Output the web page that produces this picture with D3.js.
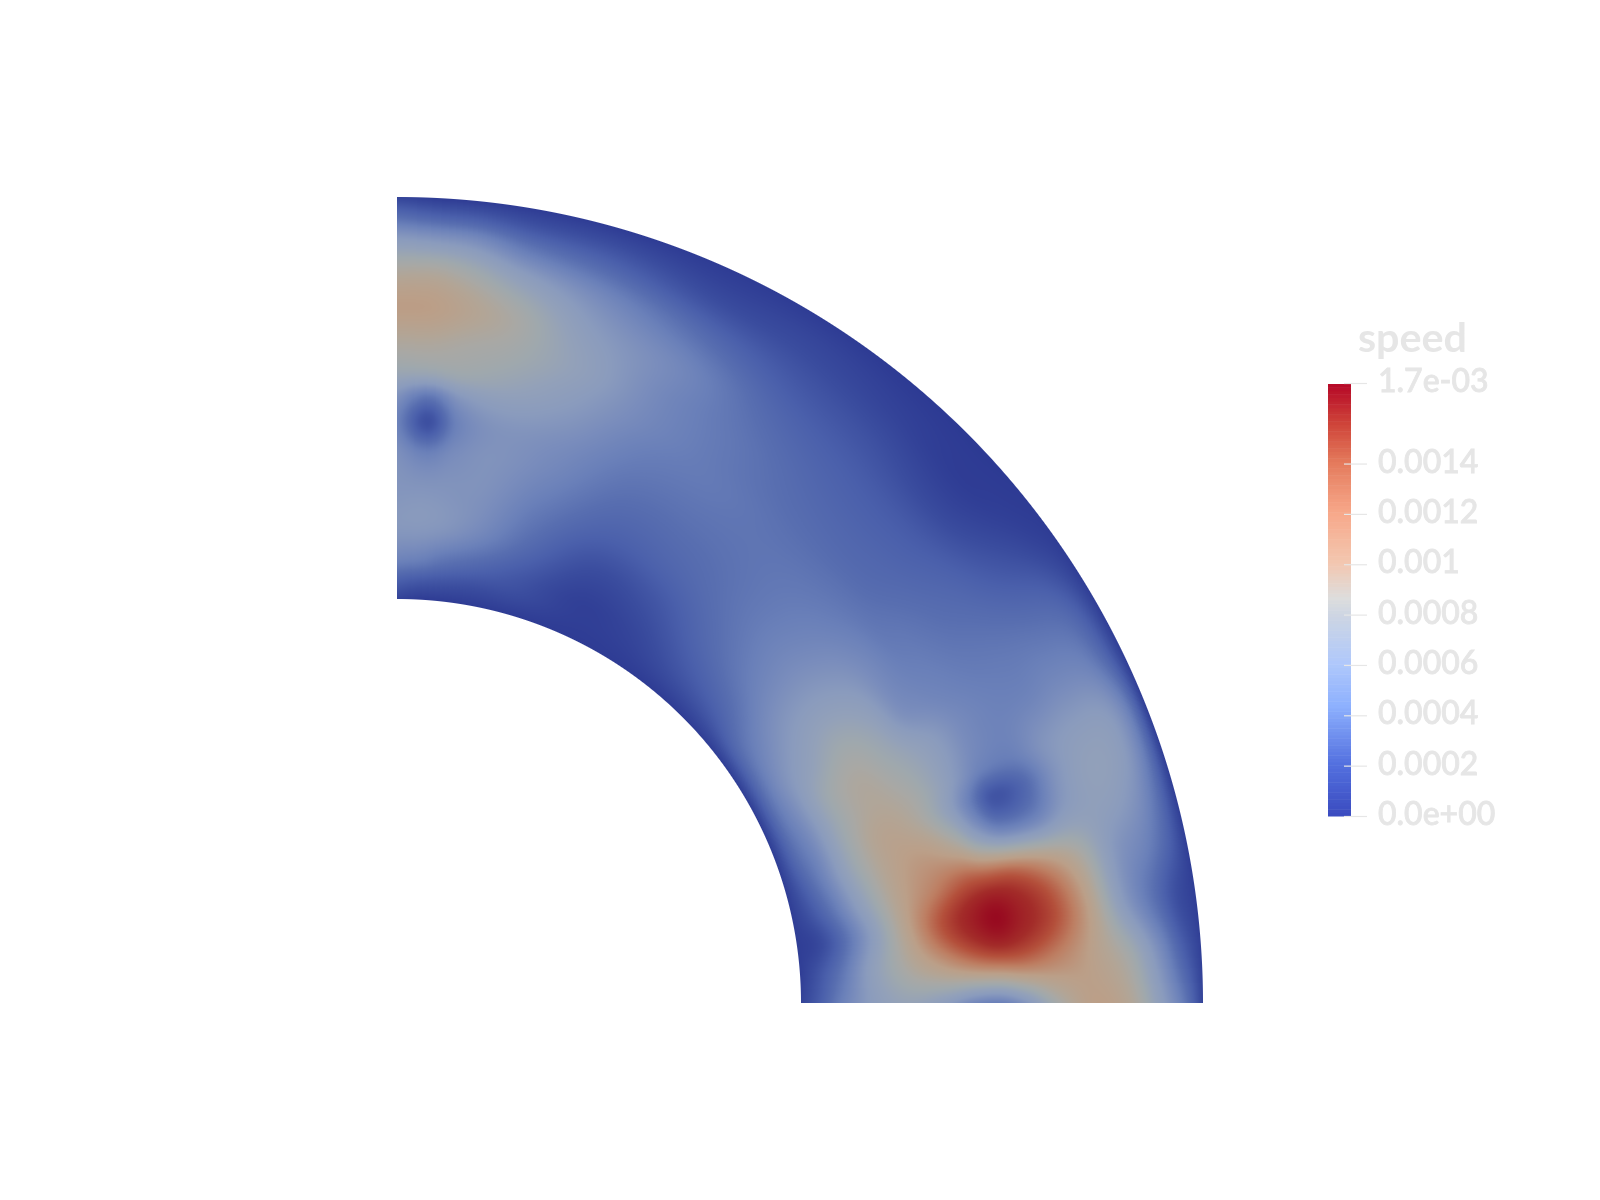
<!DOCTYPE html>
<html><head><meta charset="utf-8">
<script src="https://cdn.jsdelivr.net/npm/d3@7"></script>
<style>
html,body{margin:0;padding:0;background:#fff;width:1600px;height:1200px;overflow:hidden}
canvas,svg{position:absolute;left:0;top:0}
text{font-family:Lato,"Open Sans",sans-serif;fill:#e6e6e6}
</style></head><body>
<script>
// speed (×1e-3). Each list is one ray at a fixed angle, wall to wall.
const angles = [0,4,8,12,16,19,22,26,30,36,42,50,58,66,74,80,84,87,90];
const depths = [0,.05,.1,.18,.27,.36,.44,.5,.56,.64,.73,.82,.9,.95,1];
const ray00 = [.05,.2,.4,.62,.72,.62,.44,.4,.55,.85,1.05,.95,.62,.38,.05];
const ray04 = [.02,.15,.32,.65,.9,1.08,1.22,1.28,1.28,1.18,1.03,.83,.48,.22,.03];
const ray08 = [.02,.07,.22,.58,.98,1.33,1.58,1.72,1.58,1.38,1.05,.6,.3,.12,.02];
const ray12 = [.02,.15,.33,.68,1.0,1.18,1.32,1.33,1.3,1.15,.92,.58,.42,.25,.02];
const ray16 = [.02,.22,.42,.76,1.0,1.05,.9,.64,.44,.44,.62,.66,.55,.35,.02];
const ray19 = [.02,.27,.45,.78,.99,.93,.7,.42,.15,.24,.55,.68,.62,.42,.02];
const ray22 = [.02,.3,.48,.78,.94,.88,.72,.56,.42,.4,.55,.62,.6,.42,.02];
const ray26 = [.02,.33,.52,.78,.9,.8,.68,.58,.48,.42,.42,.46,.43,.28,.02];
const ray30 = [.02,.33,.52,.68,.8,.72,.52,.46,.42,.38,.36,.34,.3,.2,.02];
const ray36 = [.02,.28,.42,.55,.6,.56,.46,.38,.35,.3,.25,.17,.1,.05,.01];
const ray42 = [.02,.17,.28,.4,.45,.43,.38,.33,.28,.24,.18,.08,.02,.01,0];
const ray50 = [.01,.1,.17,.26,.32,.34,.34,.32,.29,.25,.2,.13,.06,.03,0];
const ray58 = [.01,.04,.07,.14,.24,.3,.34,.36,.35,.33,.27,.18,.1,.06,.01];
const ray66 = [.01,.03,.04,.11,.22,.3,.36,.4,.44,.45,.45,.3,.13,.06,.01];
const ray74 = [.01,.1,.16,.28,.37,.45,.5,.56,.62,.68,.62,.48,.25,.12,.01];
const ray80 = [.01,.12,.26,.46,.52,.54,.54,.62,.74,.83,.86,.66,.35,.15,.01];
const ray84 = [.01,.15,.33,.55,.55,.5,.42,.54,.78,.88,.98,.82,.5,.22,.01];
const ray87 = [.01,.18,.4,.58,.56,.42,.12,.32,.74,.92,1.05,.9,.54,.24,.01];
const ray90 = [.05,.22,.43,.58,.56,.52,.42,.52,.75,.92,1.06,.9,.58,.3,.05];
const rays = [ray00,ray04,ray08,ray12,ray16,ray19,ray22,ray26,ray30,ray36,ray42,ray50,ray58,ray66,ray74,ray80,ray84,ray87,ray90];

// colour ramps
const fieldStops  = [0,.1,.2,.3,.4,.5,.6,.7,.8,.87,.95,1.05,1.2,1.35,1.5,1.72];
const fieldColors = ["#2d3a93","#3a4c9e","#4a5fab","#586eb0","#6a80b9","#7a8dbc","#8a9bbd","#93a1b9","#9fa8ad","#a8a8a5","#b2a596","#bb9f88","#bd7e62","#b4503b","#a32c29","#980a20"];
const barStops  = [0,.2,.43,.6,.8,.86,1,1.2,1.4,1.55,1.72];
const barColors = ["#3b4cc0","#5370df","#8db0fe","#afc8fb","#cfd6e2","#dddddd","#f3c7b0","#f7a88a","#e47a5c","#cf453a","#b40426"];
const tickValues = [0,.2,.4,.6,.8,1,1.2,1.4,1.72];
const tickLabels = ["0.0e+00","0.0002","0.0004","0.0006","0.0008","0.001","0.0012","0.0014","1.7e-03"];
const legendTitle = "speed";

const W=1600,H=1200,cx=397,cy=1003;
const radius = d3.scaleLinear().domain([0,1]).range([404,806]);
const fieldColor = d3.scaleLinear().domain(fieldStops).range(fieldColors).interpolate(d3.interpolateRgb).clamp(true);
const barColor = d3.scaleLinear().domain(barStops).range(barColors).interpolate(d3.interpolateRgb).clamp(true);
const lut = d3.range(1024).map(i=>d3.rgb(fieldColor(i/1023*1.72)));

function slope(xs,ys,i){
  const n=xs.length;
  if(i<=0) return (ys[1]-ys[0])/(xs[1]-xs[0]);
  if(i>=n-1) return (ys[n-1]-ys[n-2])/(xs[n-1]-xs[n-2]);
  return (ys[i+1]-ys[i-1])/(xs[i+1]-xs[i-1]);
}
function herm(xs,ys,x){
  const i=Math.min(xs.length-2,Math.max(0,d3.bisectRight(xs,x)-1));
  const h=xs[i+1]-xs[i],t=(x-xs[i])/h,t2=t*t,t3=t2*t;
  return (2*t3-3*t2+1)*ys[i]+(t3-2*t2+t)*h*slope(xs,ys,i)+(-2*t3+3*t2)*ys[i+1]+(t3-t2)*h*slope(xs,ys,i+1);
}
const canvas=d3.select("body").append("canvas").attr("width",W).attr("height",H).node();
const ctx=canvas.getContext("2d");
const img=ctx.createImageData(W,H);
const r0=radius(0),r1=radius(1);
const depthN=805;
const profiles=rays.map(ray=>d3.range(depthN).map(k=>herm(depths,ray,k/(depthN-1))));
for(let y=Math.floor(cy-r1)-2;y<=cy+1;y++){
  for(let x=cx-1;x<=Math.ceil(cx+r1)+2;x++){
    const dx=x+.5-cx,dy=cy-(y+.5),r=Math.hypot(dx,dy);
    const a=Math.min(1,Math.max(0,r1+.5-r))*Math.min(1,Math.max(0,r-r0+.5))*Math.min(1,Math.max(0,dx+.5))*Math.min(1,Math.max(0,dy+.5));
    if(a<=0) continue;
    const f=Math.min(1,Math.max(0,radius.invert(r)));
    const th=Math.atan2(Math.max(dy,0),Math.max(dx,0))*180/Math.PI;
    const k=Math.round(f*(depthN-1));
    const ys=profiles.map(p=>p[k]);
    const v=Math.max(0,herm(angles,ys,th));
    const c=lut[Math.min(1023,Math.round(v/1.72*1023))];
    const o=(y*W+x)*4;
    img.data[o]=c.r;img.data[o+1]=c.g;img.data[o+2]=c.b;img.data[o+3]=255*a;
  }
}
ctx.putImageData(img,0,0);

const svg=d3.select("body").append("svg").attr("width",W).attr("height",H);
const yBar=d3.scaleLinear().domain([0,1.72]).range([816,383]);
const stepSize=1.716/128;
const steps=d3.range(128).map(i=>i*stepSize);
svg.append("g").selectAll("rect").data(steps).join("rect")
  .attr("x",1328).attr("width",23)
  .attr("y",d=>yBar(d+stepSize)).attr("height",d=>yBar(d)-yBar(d+stepSize)+.5)
  .attr("fill",d=>barColor(d));
const axis=d3.axisRight(yBar).tickValues(tickValues).tickSize(23).tickPadding(11)
  .tickFormat((d,i)=>tickLabels[i]);
const ag=svg.append("g").attr("transform","translate(1344,0)").call(axis);
ag.select(".domain").remove();
ag.selectAll("line").attr("stroke","#e6e6e6").attr("stroke-width",1.2);
ag.selectAll("text").attr("font-size",32).attr("dy","0.27em").attr("fill","#e6e6e6")
  .style("font-family","Lato").style("font-weight",500).attr("stroke","#e6e6e6").attr("stroke-width",.8);
svg.append("text").text(legendTitle).attr("x",1358).attr("y",352).attr("font-size",40).attr("font-weight",700)
  .attr("textLength",109).attr("lengthAdjust","spacingAndGlyphs");
</script>
</body></html>
